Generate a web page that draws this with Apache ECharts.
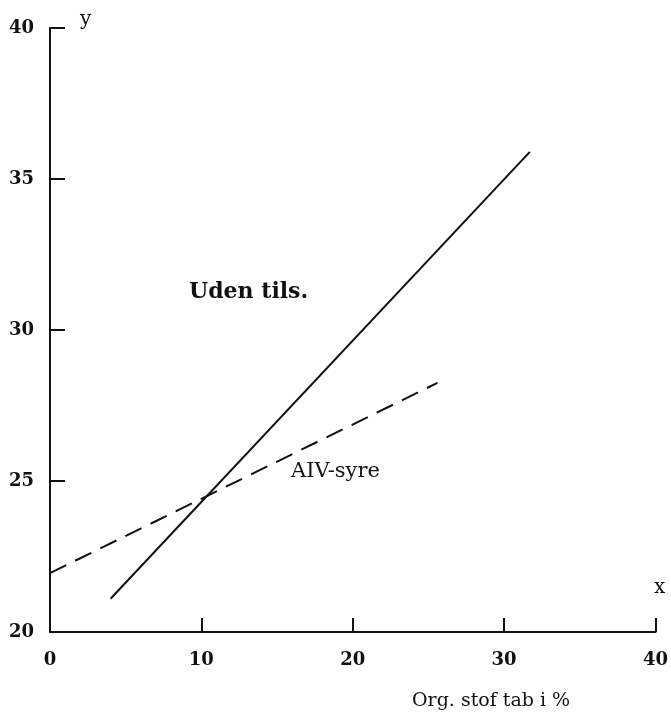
<!DOCTYPE html>
<html>
<head>
<meta charset="utf-8">
<script src="https://cdn.jsdelivr.net/npm/echarts@6/dist/echarts.min.js"></script>
<style>
  html, body { margin: 0; padding: 0; background: #fff; }
  #main { width: 671px; height: 712px; }
</style>
</head>
<body>
<div id="main"></div>
<script>
// line end points
const udenTils = [[4, 21.1], [31.7, 35.9]];
const aivSyre = [[0, 21.95], [25.6, 28.25]];

const xTicks = [0, 10, 20, 30, 40];
const yTicks = [20, 25, 30, 35, 40];

const chart = echarts.init(document.getElementById('main'));
const font = '"DejaVu Serif", serif';
const ink = '#111';

var option = {
  backgroundColor: '#fff',
  animation: false,
  grid: { left: 50, right: 11, top: 28, bottom: 80 },
  xAxis: {
    type: 'value',
    min: xTicks[0],
    max: xTicks[xTicks.length - 1],
    interval: 10,
    axisLine: { lineStyle: { color: ink, width: 2 } },
    axisTick: { show: true, inside: true, length: 14, lineStyle: { color: ink, width: 2 } },
    splitLine: { show: false },
    axisLabel: {
      margin: 19,
      color: ink,
      fontFamily: font,
      fontSize: 18,
      fontWeight: 'bold'
    }
  },
  yAxis: {
    type: 'value',
    min: yTicks[0],
    max: yTicks[yTicks.length - 1],
    interval: 5,
    axisLine: { show: true, lineStyle: { color: ink, width: 2 } },
    axisTick: { show: true, inside: true, length: 15, lineStyle: { color: ink, width: 2 } },
    splitLine: { show: false },
    axisLabel: {
      margin: 16,
      color: ink,
      fontFamily: font,
      fontSize: 18,
      fontWeight: 'bold'
    }
  },
  series: [
    {
      name: 'Uden tils.',
      type: 'line',
      data: udenTils,
      symbol: 'none',
      lineStyle: { color: ink, width: 2 }
    },
    {
      name: 'AIV-syre',
      type: 'line',
      data: aivSyre,
      symbol: 'none',
      lineStyle: { color: ink, width: 2, type: [18, 10] }
    }
  ],
  graphic: [
    { type: 'text', left: 80, top: 10, style: { text: 'y', font: '20px ' + font, fill: ink } },
    { type: 'text', left: 654, top: 578, style: { text: 'x', font: '20px ' + font, fill: ink } },
    { type: 'text', left: 412, top: 692, style: { text: 'Org. stof tab i %', font: '19px ' + font, fill: ink } },
    { type: 'text', left: 189, top: 281, style: { text: 'Uden tils.', font: 'bold 22px ' + font, fill: ink } },
    { type: 'text', left: 291, top: 461, style: { text: 'AIV-syre', font: '21px ' + font, fill: ink } }
  ]
};

chart.setOption(option);
</script>
</body>
</html>
